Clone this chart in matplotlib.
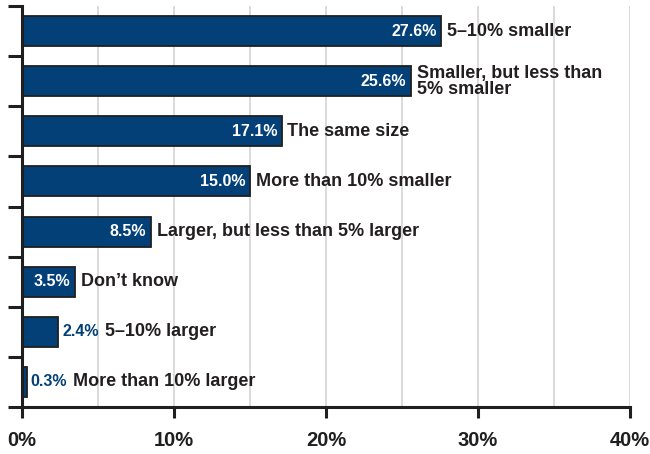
import matplotlib
matplotlib.use("Agg")
import numpy as np
from matplotlib import pyplot as plt

categories = [
    "5\u201310% smaller",
    "Smaller, but less than\n5% smaller",
    "The same size",
    "More than 10% smaller",
    "Larger, but less than 5% larger",
    "Don\u2019t know",
    "5\u201310% larger",
    "More than 10% larger",
]
values = [27.6, 25.6, 17.1, 15.0, 8.5, 3.5, 2.4, 0.3]
x_ticks = [0, 10, 20, 30, 40]
x_tick_labels = ["0%", "10%", "20%", "30%", "40%"]

BAR_COLOR = "#034078"
EDGE_COLOR = "#1f1f1f"
TEXT_COLOR = "#231f20"

plt.rcParams["font.family"] = ["Liberation Sans", "DejaVu Sans"]

fig = plt.figure(figsize=(6.5, 4.54), dpi=100)
ax = fig.add_axes([0.0338, 0.1035, 0.9354, 0.8833])

y = np.arange(len(values))
ax.barh(y, values, height=0.6, color=BAR_COLOR, edgecolor=EDGE_COLOR, linewidth=1.3, zorder=3)

ax.set_xlim(0, 40)
ax.set_ylim(len(values) - 0.5, -0.5)

ax.set_xticks(x_ticks)
ax.set_xticklabels(x_tick_labels, fontsize=14.5, fontweight="bold", color=TEXT_COLOR)
ax.set_xticks(np.arange(5, 40, 5), minor=True)
ax.tick_params(axis="x", which="major", direction="out", length=8, width=2.2, pad=9, colors=EDGE_COLOR)
ax.tick_params(axis="x", which="minor", length=0)
ax.set_yticks(np.arange(-0.5, len(values), 1))
ax.set_yticklabels([])
ax.tick_params(axis="y", direction="out", length=10, width=2.2, colors=EDGE_COLOR)

ax.grid(axis="x", which="both", color="#d4d4d4", linewidth=1.2, zorder=0)
for s in ["top", "right"]:
    ax.spines[s].set_visible(False)
for s in ["left", "bottom"]:
    ax.spines[s].set_linewidth(2.2)
    ax.spines[s].set_color(EDGE_COLOR)
    ax.spines[s].set_zorder(5)

fig.canvas.draw()
renderer = fig.canvas.get_renderer()
for yi, (v, cat) in enumerate(zip(values, categories)):
    if v >= 3:
        ax.annotate(f"{v:.1f}%", (v, yi), xytext=(-3.5, 0), textcoords="offset points",
                    ha="right", va="center", color="white", fontsize=11.5, fontweight="bold", zorder=6)
        ax.annotate(cat, (v, yi), xytext=(4, 0), textcoords="offset points",
                    ha="left", va="center", color=TEXT_COLOR, fontsize=13, fontweight="bold",
                    linespacing=0.9, zorder=6)
    else:
        t = ax.annotate(f"{v:.1f}%", (v, yi), xytext=(3, 0), textcoords="offset points",
                        ha="left", va="center", color=BAR_COLOR, fontsize=11.5, fontweight="bold", zorder=6)
        w = t.get_window_extent(renderer).width * 72 / fig.dpi
        ax.annotate(cat, (v, yi), xytext=(3 + w + 4, 0), textcoords="offset points",
                    ha="left", va="center", color=TEXT_COLOR, fontsize=13, fontweight="bold", zorder=6)

fig.savefig("out.png", dpi=100)
